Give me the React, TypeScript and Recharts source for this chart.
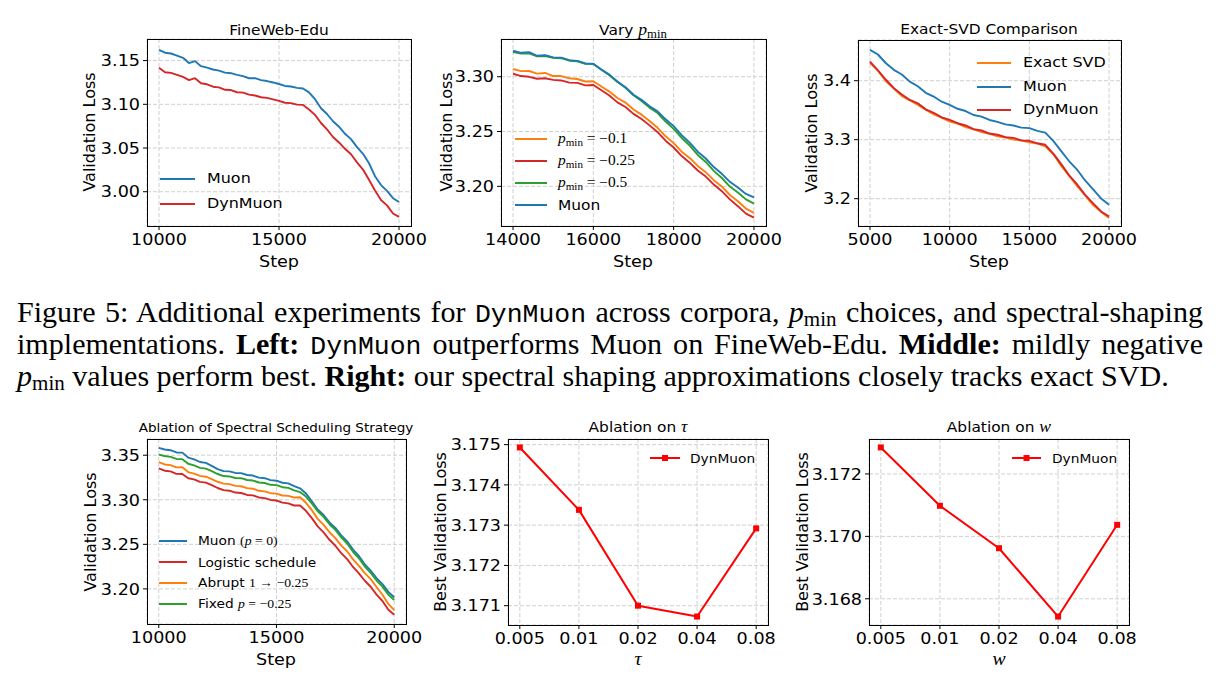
import React from "react";
import { LineChart, Line, XAxis, YAxis, CartesianGrid } from "recharts";

const SANS = "'DejaVu Sans', sans-serif";
const SERIF = "'Liberation Serif', 'DejaVu Serif', serif";
const MONO = "'Liberation Mono', 'DejaVu Sans Mono', monospace";
const SX = 1.1; // glyphs in the plots are a little wide

const BLUE = "#1f77b4";
const ORANGE = "#ff7f0e";
const GREEN = "#2ca02c";
const RED = "#d62728";
const PURE_RED = "#ff0000";

// ---- FineWeb-Edu / scheduling ablation (step 10k..20k)
const stepsA = [
  10000, 10250, 10500, 10750, 11000, 11250, 11500, 11750, 12000, 12250, 12500,
  12750, 13000, 13250, 13500, 13750, 14000, 14250, 14500, 14750, 15000, 15250,
  15500, 15750, 16000, 16250, 16500, 16750, 17000, 17250, 17500, 17750, 18000,
  18250, 18500, 18750, 19000, 19250, 19500, 19750, 20000,
];
const fwMuon = [
  3.1622, 3.1590, 3.1581, 3.1556, 3.1532, 3.1472, 3.1494, 3.1436, 3.1419, 3.1398, 3.1385,
  3.1362, 3.1356, 3.1336, 3.1322, 3.1298, 3.1299, 3.1276, 3.1266, 3.1250, 3.1232, 3.1210,
  3.1204, 3.1188, 3.1181, 3.1136, 3.1058, 3.0955, 3.0889, 3.0806, 3.0744, 3.0663, 3.0602,
  3.0510, 3.0434, 3.0326, 3.0178, 3.0076, 3.0009, 2.9926, 2.9882,
];
const fwDyn = [
  3.1418, 3.1366, 3.1359, 3.1336, 3.1314, 3.1276, 3.1299, 3.1241, 3.1229, 3.1201, 3.1194,
  3.1166, 3.1163, 3.1138, 3.1134, 3.1111, 3.1101, 3.1081, 3.1074, 3.1056, 3.1039, 3.1018,
  3.1013, 3.0996, 3.0993, 3.0941, 3.0879, 3.0786, 3.0714, 3.0626, 3.0564, 3.0491, 3.0429,
  3.0336, 3.0254, 3.0136, 3.0014, 2.9906, 2.9844, 2.9751, 2.9712,
];
const schMuon = [
  3.3582, 3.3564, 3.3556, 3.3531, 3.3529, 3.3474, 3.3454, 3.3424, 3.3414, 3.3381, 3.3344,
  3.3321, 3.3319, 3.3301, 3.3299, 3.3278, 3.3272, 3.3248, 3.3242, 3.3221, 3.3214, 3.3191,
  3.3184, 3.3154, 3.3129, 3.3071, 3.2984, 3.2891, 3.2829, 3.2746, 3.2684, 3.2601, 3.2534,
  3.2441, 3.2369, 3.2276, 3.2204, 3.2121, 3.2054, 3.1966, 3.1907,
];
const schLogistic = [
  3.3352, 3.3326, 3.3319, 3.3291, 3.3289, 3.3241, 3.3229, 3.3201, 3.3192, 3.3164, 3.3132,
  3.3108, 3.3102, 3.3081, 3.3076, 3.3054, 3.3049, 3.3026, 3.3019, 3.2998, 3.2992, 3.2968,
  3.2959, 3.2936, 3.2936, 3.2876, 3.2794, 3.2701, 3.2634, 3.2551, 3.2484, 3.2401, 3.2334,
  3.2246, 3.2174, 3.2091, 3.2024, 3.1936, 3.1864, 3.1766, 3.1710,
];
const schAbrupt = [
  3.3422, 3.3396, 3.3389, 3.3364, 3.3366, 3.3311, 3.3294, 3.3268, 3.3259, 3.3231, 3.3202,
  3.3181, 3.3176, 3.3156, 3.3152, 3.3131, 3.3124, 3.3101, 3.3094, 3.3074, 3.3069, 3.3048,
  3.3044, 3.3026, 3.3029, 3.2966, 3.2884, 3.2786, 3.2719, 3.2636, 3.2569, 3.2486, 3.2422,
  3.2331, 3.2259, 3.2176, 3.2109, 3.2021, 3.1934, 3.1831, 3.1762,
];
const schFixed = [
  3.3507, 3.3491, 3.3482, 3.3458, 3.3456, 3.3404, 3.3386, 3.3358, 3.3349, 3.3321, 3.3289,
  3.3266, 3.3262, 3.3244, 3.3242, 3.3222, 3.3216, 3.3194, 3.3188, 3.3168, 3.3164, 3.3141,
  3.3134, 3.3106, 3.3086, 3.3036, 3.2959, 3.2871, 3.2809, 3.2726, 3.2662, 3.2578, 3.2509,
  3.2416, 3.2344, 3.2251, 3.2179, 3.2094, 3.2026, 3.1936, 3.1874,
];

// ---- p_min sweep (step 14k..20k)
const stepsB = [
  14000, 14200, 14400, 14600, 14800, 15000, 15200, 15400, 15600, 15800, 16000,
  16200, 16400, 16600, 16800, 17000, 17200, 17400, 17600, 17800, 18000, 18200,
  18400, 18600, 18800, 19000, 19200, 19400, 19600, 19800, 20000,
];
const pmMinus01 = [
  3.3070, 3.3051, 3.3052, 3.3028, 3.3034, 3.3006, 3.3006, 3.2986, 3.2979, 3.2956, 3.2958,
  3.2911, 3.2864, 3.2806, 3.2764, 3.2701, 3.2654, 3.2596, 3.2534, 3.2456, 3.2394, 3.2316,
  3.2259, 3.2186, 3.2129, 3.2056, 3.1999, 3.1921, 3.1864, 3.1797, 3.1757,
];
const pmMinus025 = [
  3.3027, 3.3006, 3.2999, 3.2981, 3.2986, 3.2971, 3.2966, 3.2946, 3.2944, 3.2921, 3.2924,
  3.2876, 3.2829, 3.2766, 3.2724, 3.2661, 3.2614, 3.2556, 3.2494, 3.2416, 3.2354, 3.2276,
  3.2216, 3.2144, 3.2089, 3.2016, 3.1956, 3.1881, 3.1819, 3.1751, 3.1714,
];
const pmMinus05 = [
  3.3224, 3.3211, 3.3214, 3.3186, 3.3189, 3.3172, 3.3169, 3.3146, 3.3141, 3.3118, 3.3116,
  3.3064, 3.3014, 3.2951, 3.2899, 3.2831, 3.2779, 3.2718, 3.2669, 3.2591, 3.2524, 3.2441,
  3.2372, 3.2286, 3.2222, 3.2141, 3.2076, 3.1998, 3.1944, 3.1881, 3.1842,
];
const pmMuon = [
  3.3237, 3.3218, 3.3224, 3.3191, 3.3196, 3.3176, 3.3174, 3.3151, 3.3144, 3.3121, 3.3119,
  3.3066, 3.3019, 3.2956, 3.2904, 3.2836, 3.2789, 3.2731, 3.2684, 3.2611, 3.2549, 3.2466,
  3.2399, 3.2316, 3.2254, 3.2176, 3.2114, 3.2041, 3.1989, 3.1931, 3.1899,
];

// ---- exact SVD comparison (step 5k..20k)
const stepsC = [
  5000, 5500, 6000, 6500, 7000, 7500, 8000, 8500, 9000, 9500, 10000,
  10500, 11000, 11500, 12000, 12500, 13000, 13500, 14000, 14500, 15000, 15500,
  16000, 16500, 17000, 17500, 18000, 18500, 19000, 19500, 20000,
];
const svdExact = [
  3.4303, 3.4171, 3.3991, 3.3868, 3.3738, 3.3668, 3.3588, 3.3508, 3.3428, 3.3374, 3.3308,
  3.3274, 3.3214, 3.3174, 3.3128, 3.3098, 3.3056, 3.3038, 3.3004, 3.2984, 3.2954, 3.2934,
  3.2888, 3.2756, 3.2556, 3.2386, 3.2211, 3.2056, 3.1891, 3.1776, 3.1673,
];
const svdMuon = [
  3.4522, 3.4444, 3.4296, 3.4184, 3.4106, 3.3984, 3.3906, 3.3794, 3.3731, 3.3644, 3.3591,
  3.3524, 3.3486, 3.3419, 3.3391, 3.3334, 3.3301, 3.3259, 3.3241, 3.3204, 3.3196, 3.3149,
  3.3119, 3.2979, 3.2806, 3.2634, 3.2491, 3.2309, 3.2156, 3.2004, 3.1897,
];
const svdDyn = [
  3.4322, 3.4174, 3.4016, 3.3874, 3.3766, 3.3674, 3.3616, 3.3514, 3.3456, 3.3379, 3.3336,
  3.3279, 3.3241, 3.3179, 3.3156, 3.3104, 3.3084, 3.3044, 3.3031, 3.2989, 3.2981, 3.2939,
  3.2914, 3.2764, 3.2586, 3.2394, 3.2241, 3.2064, 3.1921, 3.1784, 3.1697,
];

// ---- hyper-parameter ablations
const hpValues = [0.005, 0.01, 0.02, 0.04, 0.08];
const tauBest = [3.17493, 3.17338, 3.171, 3.17073, 3.17292];
const wBest = [3.17285, 3.17098, 3.16962, 3.16743, 3.17037];

const zip = (xs: number[], cols: Record<string, number[]>) =>
  xs.map((x, i) => {
    const row: Record<string, number> = { x };
    for (const k of Object.keys(cols)) row[k] = cols[k][i];
    return row;
  });

const fwData = zip(stepsA, { muon: fwMuon, dyn: fwDyn });
const pmData = zip(stepsB, { m01: pmMinus01, m025: pmMinus025, m05: pmMinus05, muon: pmMuon });
const svdData = zip(stepsC, { exact: svdExact, muon: svdMuon, dyn: svdDyn });
const schData = zip(stepsA, { muon: schMuon, logi: schLogistic, abrupt: schAbrupt, fixed: schFixed });
const tauData = zip(hpValues, { best: tauBest });
const wData = zip(hpValues, { best: wBest });

const fmt = (d: number) => (v: number) => v.toFixed(d);
const plain = (v: number) => String(v);

// tick text with the horizontal stretch applied
const makeTick = (f: (v: number) => string, side: "x" | "y") => (p: any) => (
  <g transform={`translate(${p.x},${p.y}) scale(${SX},1)`}>
    <text
      x={0}
      y={0}
      dy={side === "x" ? "0.76em" : "0.36em"}
      textAnchor={side === "x" ? "middle" : "end"}
      fontFamily={SANS}
      fontSize={16}
      fill="#000"
    >
      {f(p.payload.value)}
    </text>
  </g>
);

type Series = { key: string; color: string; marker?: boolean; width?: number };

type PanelProps = {
  box: [number, number, number, number];
  data: any[];
  xDomain: [number, number];
  yDomain: [number, number];
  xTicks: number[];
  yTicks: number[];
  xFmt: (v: number) => string;
  yFmt: (v: number) => string;
  series: Series[];
  log?: boolean;
};

const square = (color: string) => (p: any) => (
  <rect key={`sq-${p.index}`} x={p.cx - 3} y={p.cy - 3} width={6} height={6} fill={color} />
);

function Panel({ box, data, xDomain, yDomain, xTicks, yTicks, xFmt, yFmt, series, log }: PanelProps) {
  const [l, t, w, h] = box;
  const PL = 70, PT = 6, PR = 30, PB = 30;
  return (
    <div style={{ position: "absolute", left: l - PL, top: t - PT }}>
      <LineChart width={PL + w + PR} height={PT + h + PB} data={data} margin={{ top: PT, right: PR, left: 0, bottom: 0 }}>
        <CartesianGrid stroke="#d0d0d0" strokeDasharray="4 2" />
        <XAxis
          dataKey="x"
          type="number"
          scale={log ? "log" : "linear"}
          domain={xDomain}
          ticks={xTicks}
          interval={0}
          allowDataOverflow
          height={PB}
          axisLine={false}
          tickLine={{ stroke: "#000" }}
          tickSize={4}
          tickMargin={3}
          tick={makeTick(xFmt, "x")}
        />
        <YAxis
          type="number"
          domain={yDomain}
          ticks={yTicks}
          interval={0}
          allowDataOverflow
          width={PL}
          axisLine={false}
          tickLine={{ stroke: "#000" }}
          tickSize={4}
          tickMargin={3}
          tick={makeTick(yFmt, "y")}
        />
        {series.map((s) => (
          <Line
            key={s.key}
            dataKey={s.key}
            type="linear"
            stroke={s.color}
            strokeWidth={s.width ?? 1.9}
            strokeLinejoin="round"
            dot={s.marker ? square(s.color) : false}
            isAnimationActive={false}
          />
        ))}
      </LineChart>
      <div
        style={{
          position: "absolute",
          left: PL - 0.5,
          top: PT - 0.5,
          width: w + 1,
          height: h + 1,
          border: "1px solid #000",
          boxSizing: "border-box",
          pointerEvents: "none",
        }}
      />
    </div>
  );
}

const Pmin = ({ sub = 0.72, drop = 0.3 }: { sub?: number; drop?: number }) => (
  <span style={{ fontFamily: SERIF }}>
    <i>p</i>
    <span style={{ fontSize: `${sub}em`, position: "relative", top: `${drop}em` }}>min</span>
  </span>
);

function Text({ x, y, size, children, rotate, anchor = "center", serif }: any) {
  const tx = anchor === "center" ? "-50%" : "0";
  return (
    <div
      style={{
        position: "absolute",
        left: x,
        top: y,
        transform: rotate
          ? `translate(-50%,-50%) rotate(-90deg)`
          : `translate(${tx},-50%) scale(${SX},1)`,
        transformOrigin: anchor === "center" ? "50% 50%" : "0 50%",
        fontFamily: serif ? SERIF : SANS,
        fontSize: size,
        lineHeight: 1.2,
        whiteSpace: "nowrap",
        color: "#000",
      }}
    >
      {children}
    </div>
  );
}

type LegendItem = { label: React.ReactNode; color: string; marker?: boolean };

function Legend({ x, y, gap, lineLen, textGap, size, items, width = 2 }: any) {
  return (
    <>
      {items.map((it: LegendItem, i: number) => (
        <div key={i} style={{ position: "absolute", left: x, top: y + i * gap - 5 }}>
          <svg width={lineLen} height={10} style={{ position: "absolute", left: 0, top: 0 }}>
            <line x1={0} x2={lineLen} y1={5} y2={5} stroke={it.color} strokeWidth={width} />
            {it.marker && <rect x={lineLen / 2 - 3} y={2} width={6} height={6} fill={it.color} />}
          </svg>
          <Text x={lineLen + textGap} y={5} size={size} anchor="left">
            {it.label}
          </Text>
        </div>
      ))}
    </>
  );
}

const math = (s: React.ReactNode) => <span style={{ fontFamily: SERIF }}>{s}</span>;

const Tt = ({ children }: any) => (
  <span style={{ fontFamily: MONO, fontSize: "0.88em" }}>{children}</span>
);

const CAP_SX = 1.055;
const capLine: React.CSSProperties = { height: 32, whiteSpace: "nowrap" };
const capJustify: React.CSSProperties = {
  height: 32,
  textAlign: "justify",
  textAlignLast: "justify",
};

export default function App() {
  return (
    <div style={{ position: "relative", width: 1219, height: 686, margin: -8, background: "#fff", overflow: "hidden" }}>
      {/* top row */}
      <Panel
        box={[147, 39, 264, 187]}
        data={fwData}
        xDomain={[9500, 20500]}
        yDomain={[2.9608, 3.1747]}
        xTicks={[10000, 15000, 20000]}
        yTicks={[3.0, 3.05, 3.1, 3.15]}
        xFmt={plain}
        yFmt={fmt(2)}
        series={[
          { key: "muon", color: BLUE },
          { key: "dyn", color: RED },
        ]}
      />
      <Text x={279} y={30} size={14}>FineWeb-Edu</Text>
      <Text x={279} y={262} size={16}>Step</Text>
      <Text x={90} y={132} size={16} rotate>Validation Loss</Text>
      <Legend
        x={160}
        y={179}
        gap={25}
        lineLen={35}
        textGap={12}
        size={14.5}
        items={[
          { label: "Muon", color: BLUE },
          { label: "DynMuon", color: RED },
        ]}
      />

      <Panel
        box={[501, 39, 265, 187]}
        data={pmData}
        xDomain={[13700, 20300]}
        yDomain={[3.1638, 3.3344]}
        xTicks={[14000, 16000, 18000, 20000]}
        yTicks={[3.2, 3.25, 3.3]}
        xFmt={plain}
        yFmt={fmt(2)}
        series={[
          { key: "m01", color: ORANGE },
          { key: "m025", color: RED },
          { key: "m05", color: GREEN },
          { key: "muon", color: BLUE },
        ]}
      />
      <Text x={633} y={30} size={14}>
        Vary <span style={{ fontSize: "1.15em" }}><Pmin /></span>
      </Text>
      <Text x={633} y={262} size={16}>Step</Text>
      <Text x={447} y={132} size={16} rotate>Validation Loss</Text>
      <Legend
        x={515}
        y={139}
        gap={22}
        lineLen={32}
        textGap={11}
        size={14}
        items={[
          { label: math(<><Pmin /> = −0.1</>), color: ORANGE },
          { label: math(<><Pmin /> = −0.25</>), color: RED },
          { label: math(<><Pmin /> = −0.5</>), color: GREEN },
          { label: "Muon", color: BLUE },
        ]}
      />

      <Panel
        box={[858, 40, 263, 186]}
        data={svdData}
        xDomain={[4250, 20750]}
        yDomain={[3.1537, 3.469]}
        xTicks={[5000, 10000, 15000, 20000]}
        yTicks={[3.2, 3.3, 3.4]}
        xFmt={plain}
        yFmt={fmt(1)}
        series={[
          { key: "exact", color: ORANGE },
          { key: "muon", color: BLUE },
          { key: "dyn", color: RED },
        ]}
      />
      <Text x={989} y={29} size={14}>Exact-SVD Comparison</Text>
      <Text x={989} y={262} size={16}>Step</Text>
      <Text x={812} y={133} size={16} rotate>Validation Loss</Text>
      <Legend
        x={977}
        y={63}
        gap={23.7}
        lineLen={34}
        textGap={12}
        size={14.5}
        items={[
          { label: "Exact SVD", color: ORANGE },
          { label: "Muon", color: BLUE },
          { label: "DynMuon", color: RED },
        ]}
      />

      {/* caption */}
      <div
        style={{
          position: "absolute",
          left: 17,
          top: 297,
          width: 1186 / CAP_SX,
          transform: `scale(${CAP_SX},1)`,
          transformOrigin: "0 0",
          fontFamily: SERIF,
          fontSize: 28.5,
          lineHeight: "32px",
          color: "#000",
        }}
      >
        <div style={capJustify}>
          Figure 5: Additional experiments for <Tt>DynMuon</Tt> across corpora, <Pmin sub={0.7} drop={0.2} /> choices, and spectral-shaping
        </div>
        <div style={capJustify}>
          implementations. <b>Left:</b> <Tt>DynMuon</Tt> outperforms Muon on FineWeb-Edu. <b>Middle:</b> mildly negative
        </div>
        <div style={capLine}>
          <Pmin sub={0.7} drop={0.2} /> values perform best. <b>Right:</b> our spectral shaping approximations closely tracks exact SVD.
        </div>
      </div>

      {/* bottom row */}
      <Panel
        box={[147, 439, 259, 185]}
        data={schData}
        xDomain={[9500, 20500]}
        yDomain={[3.1606, 3.3682]}
        xTicks={[10000, 15000, 20000]}
        yTicks={[3.2, 3.25, 3.3, 3.35]}
        xFmt={plain}
        yFmt={fmt(2)}
        series={[
          { key: "muon", color: BLUE },
          { key: "logi", color: RED },
          { key: "abrupt", color: ORANGE },
          { key: "fixed", color: GREEN },
        ]}
      />
      <Text x={276} y={428} size={12.3}>Ablation of Spectral Scheduling Strategy</Text>
      <Text x={276} y={660} size={16}>Step</Text>
      <Text x={91} y={532} size={16} rotate>Validation Loss</Text>
      <Legend
        x={159}
        y={541}
        gap={21.1}
        lineLen={28}
        textGap={11}
        size={12.5}
        items={[
          { label: <>Muon {math(<>(<i>p</i> = 0)</>)}</>, color: BLUE },
          { label: "Logistic schedule", color: RED },
          { label: <>Abrupt {math(<>1 → −0.25</>)}</>, color: ORANGE },
          { label: <>Fixed {math(<><i>p</i> = −0.25</>)}</>, color: GREEN },
        ]}
      />

      <Panel
        box={[508, 439, 260, 186]}
        data={tauData}
        log
        xDomain={[0.0043527, 0.091896]}
        yDomain={[3.17052, 3.17514]}
        xTicks={hpValues}
        yTicks={[3.171, 3.172, 3.173, 3.174, 3.175]}
        xFmt={plain}
        yFmt={fmt(3)}
        series={[{ key: "best", color: PURE_RED, marker: true, width: 2 }]}
      />
      <Text x={638} y={427} size={14}>
        Ablation on <span style={{ fontFamily: SERIF, fontStyle: "italic", fontSize: "1.15em" }}>τ</span>
      </Text>
      <Text x={638} y={660} size={18} serif>
        <i>τ</i>
      </Text>
      <Text x={441} y={532} size={16} rotate>Best Validation Loss</Text>
      <Legend
        x={650}
        y={458}
        gap={22}
        lineLen={30}
        textGap={10}
        size={12.5}
        items={[{ label: "DynMuon", color: PURE_RED, marker: true }]}
      />

      <Panel
        box={[869, 439, 260, 186]}
        data={wData}
        log
        xDomain={[0.0043527, 0.091896]}
        yDomain={[3.16716, 3.17312]}
        xTicks={hpValues}
        yTicks={[3.168, 3.17, 3.172]}
        xFmt={plain}
        yFmt={fmt(3)}
        series={[{ key: "best", color: PURE_RED, marker: true, width: 2 }]}
      />
      <Text x={999} y={427} size={14}>
        Ablation on <span style={{ fontFamily: SERIF, fontStyle: "italic", fontSize: "1.15em" }}>w</span>
      </Text>
      <Text x={999} y={660} size={18} serif>
        <i>w</i>
      </Text>
      <Text x={803} y={532} size={16} rotate>Best Validation Loss</Text>
      <Legend
        x={1012}
        y={458}
        gap={22}
        lineLen={29}
        textGap={11}
        size={12.5}
        items={[{ label: "DynMuon", color: PURE_RED, marker: true }]}
      />
    </div>
  );
}
